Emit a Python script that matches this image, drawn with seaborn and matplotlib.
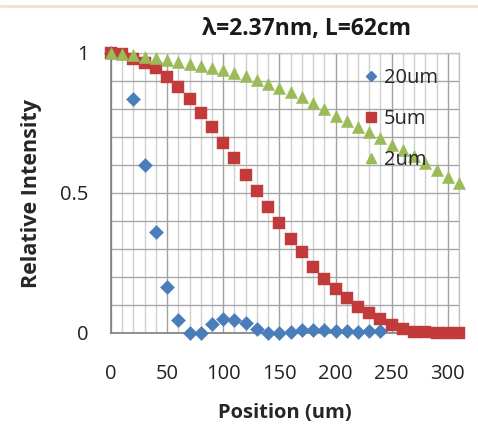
import pandas as pd
import matplotlib
matplotlib.use("Agg")
import matplotlib.pyplot as plt
import seaborn as sns
from matplotlib.ticker import MultipleLocator, FixedLocator
from matplotlib.lines import Line2D

# Values (position in um, relative intensity)
pos_20um = [0, 20, 30, 40, 50, 60, 70, 80, 90, 100, 110, 120, 130, 140, 150,
            160, 170, 180, 190, 200, 210, 220, 230, 240]
int_20um = [1.0, 0.835, 0.60, 0.36, 0.165, 0.046, 0.001, 0.0, 0.031, 0.049, 0.046,
            0.035, 0.013, 0.001, 0.0, 0.005, 0.011, 0.011, 0.010, 0.008, 0.006, 0.004,
            0.006, 0.008]

pos_5um = [0, 10, 20, 30, 40, 50, 60, 70, 80, 90, 100, 110, 120, 130, 140, 150, 160,
           170, 180, 190, 200, 210, 220, 230, 240, 250, 260, 270, 280, 290, 300, 310]
int_5um = [1.0, 0.995, 0.98, 0.963, 0.946, 0.915, 0.878, 0.836, 0.787, 0.735, 0.68,
           0.624, 0.566, 0.508, 0.449, 0.394, 0.336, 0.288, 0.237, 0.192, 0.157, 0.124,
           0.092, 0.07, 0.049, 0.029, 0.013, 0.005, 0.002, 0.001, 0.0, 0.0]

pos_2um = [0, 10, 20, 30, 40, 50, 60, 70, 80, 90, 100, 110, 120, 130, 140, 150, 160,
           170, 180, 190, 200, 210, 220, 230, 240, 250, 260, 270, 280, 290, 300, 310]
int_2um = [1.0, 0.997, 0.993, 0.987, 0.981, 0.975, 0.968, 0.962, 0.955, 0.947, 0.938,
           0.928, 0.917, 0.904, 0.89, 0.876, 0.861, 0.842, 0.822, 0.80, 0.775, 0.756,
           0.737, 0.718, 0.697, 0.672, 0.653, 0.632, 0.607, 0.583, 0.558, 0.535]

series_names = ["20um", "5um", "2um"]
colors = {"20um": "#4A7EBB", "5um": "#C23A3A", "2um": "#9BBB59"}
markers = {"20um": "D", "5um": "s", "2um": "^"}
sizes = {"20um": 52, "5um": 85, "2um": 78}

title_text = "\u03bb=2.37nm, L=62cm"
x_ticks = [0, 50, 100, 150, 200, 250, 300]
y_ticks = [0, 0.5, 1]
y_tick_labels = ["0", "0.5", "1"]


def build_frame() -> pd.DataFrame:
    # Long-form table for seaborn
    parts = []
    for name, xs, ys in [("20um", pos_20um, int_20um),
                         ("5um", pos_5um, int_5um),
                         ("2um", pos_2um, int_2um)]:
        parts.append(pd.DataFrame({"Position": xs, "Intensity": ys, "Slit": name}))
    return pd.concat(parts, ignore_index=True)


def main():
    sns.set_style("white")
    plt.rcParams["font.family"] = ["Open Sans", "DejaVu Sans"]

    data = build_frame()

    fig = plt.figure(figsize=(4.78, 4.28), dpi=100)
    ax = fig.add_axes([111 / 478, 1 - 333 / 428, (459 - 111) / 478, (333 - 53) / 428])

    # Draw each series separately so the drawing order matches (green on top of red)
    for name in ["20um", "5um", "2um"]:
        sub = data[data["Slit"] == name]
        sns.scatterplot(data=sub, x="Position", y="Intensity", ax=ax,
                        color=colors[name], marker=markers[name], s=sizes[name],
                        edgecolor=colors[name], linewidth=0.3, clip_on=False,
                        zorder=3, legend=False)

    ax.set_xlim(0, 310)
    ax.set_ylim(0, 1)

    # Gridlines like the Excel chart
    ax.xaxis.set_major_locator(FixedLocator(x_ticks))
    ax.xaxis.set_minor_locator(MultipleLocator(10))
    ax.yaxis.set_major_locator(FixedLocator(y_ticks))
    ax.yaxis.set_minor_locator(MultipleLocator(0.1))
    ax.grid(which="minor", axis="x", color="#cfcfcf", linewidth=1.0)
    ax.grid(which="major", axis="x", color="#a0a0a0", linewidth=1.0)
    ax.grid(which="both", axis="y", color="#a8a8a8", linewidth=1.0)
    ax.set_axisbelow(True)

    ax.set_yticklabels(y_tick_labels)
    ax.tick_params(axis="both", which="both", length=0, labelsize=14.5, colors="#222222")
    ax.tick_params(axis="y", pad=16)
    ax.tick_params(axis="x", pad=22)

    for side in ["left", "bottom"]:
        ax.spines[side].set_color("#7f7f7f")
        ax.spines[side].set_linewidth(1.2)
    for side in ["top", "right"]:
        ax.spines[side].set_color("#c4c4c4")
        ax.spines[side].set_linewidth(1.0)

    ax.set_xlabel("Position (um)", fontsize=14.5, fontweight="bold", labelpad=14)
    ax.set_ylabel("Relative Intensity", fontsize=15.5, fontweight="bold", labelpad=13)

    fig.text(307 / 478, 1 - 29 / 428, title_text, ha="center", va="center",
             fontsize=16.5, fontweight="bold", color="#1a1a1a")

    # Legend without frame
    handles = [Line2D([], [], linestyle="none", marker=markers[n], color=colors[n],
                      markersize=7 if n != "20um" else 5.5) for n in series_names]
    ax.legend(handles, series_names, loc="upper right", bbox_to_anchor=(0.975, 0.99),
              frameon=False, fontsize=14.5, handletextpad=0.15, labelspacing=1.05,
              handlelength=1.0, borderaxespad=0.2)

    # Faint top stripe seen on the screenshot
    fig.add_artist(Line2D([0, 1], [1 - 6 / 428, 1 - 6 / 428], color="#f0e4cc",
                          linewidth=2, transform=fig.transFigure))

    plt.savefig("out.png", dpi=100)
    plt.close()


if __name__ == "__main__":
    main()
